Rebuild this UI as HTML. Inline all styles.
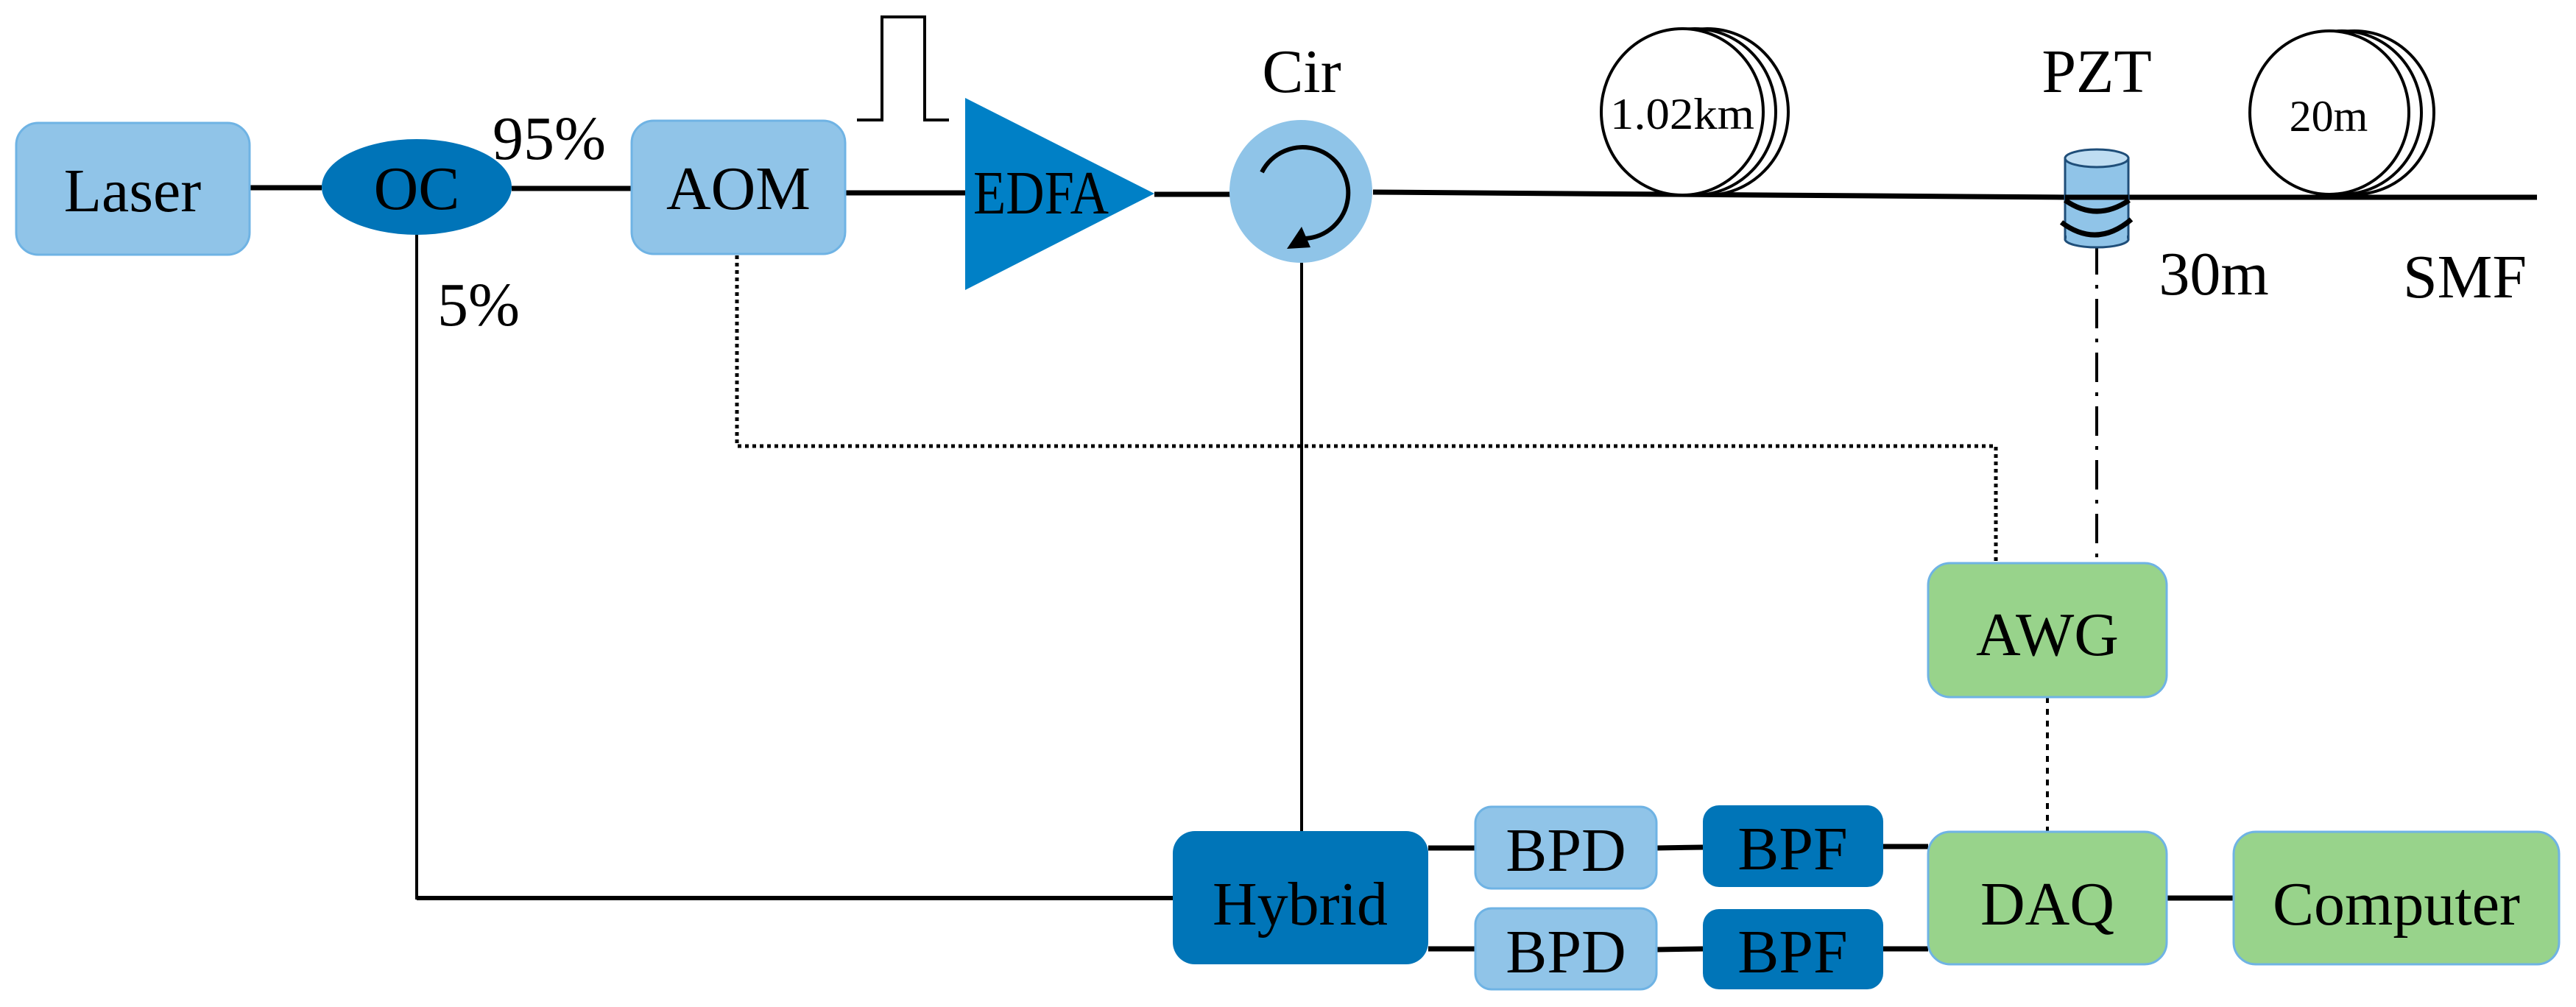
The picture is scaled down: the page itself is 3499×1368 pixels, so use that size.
<!DOCTYPE html>
<html><head><meta charset="utf-8"><style>
html,body{margin:0;padding:0;background:#fff}
svg{display:block}
text{font-family:"Liberation Serif",serif;fill:#000}
</style></head><body>
<svg width="3499" height="1368" viewBox="0 0 3499 1368" xmlns="http://www.w3.org/2000/svg">
<g stroke="#000" fill="none">
<line x1="339" y1="255" x2="437" y2="255" stroke-width="7"/>
<line x1="695" y1="256" x2="858" y2="256" stroke-width="7"/>
<line x1="1148" y1="262" x2="1311" y2="262" stroke-width="7"/>
<line x1="1568" y1="264" x2="1671" y2="264" stroke-width="7"/>
<line x1="1865" y1="261" x2="2805" y2="268" stroke-width="7"/>
<line x1="2891" y1="268" x2="3446" y2="268" stroke-width="7"/>
<polyline points="566,319 566,1220 1593,1220" stroke-width="4"/>
<line x1="566" y1="1220" x2="1593" y2="1220" stroke-width="6"/>
<line x1="1768" y1="357" x2="1768" y2="1129" stroke-width="4"/>
<polyline points="1001,347 1001,606 2711,606 2711,765" stroke-width="5" stroke-dasharray="5,5"/>
<line x1="2848" y1="333" x2="2848" y2="765" stroke-width="4" stroke-dasharray="40,14,5,14"/>
<line x1="2781" y1="947" x2="2781" y2="1130" stroke-width="4" stroke-dasharray="8,8"/>
<line x1="1940" y1="1152" x2="2004" y2="1152" stroke-width="7"/>
<line x1="2250" y1="1152" x2="2313" y2="1151" stroke-width="7"/>
<line x1="2558" y1="1150" x2="2619" y2="1150" stroke-width="7"/>
<line x1="1940" y1="1289" x2="2004" y2="1289" stroke-width="7"/>
<line x1="2250" y1="1290" x2="2313" y2="1289" stroke-width="7"/>
<line x1="2558" y1="1289" x2="2619" y2="1289" stroke-width="7"/>
<line x1="2943" y1="1220" x2="3034" y2="1220" stroke-width="7"/>
<polyline points="1164,163 1198,163 1198,23 1256,23 1256,163 1289,163" stroke-width="4"/>
</g>
<g stroke="#6fb3e4" stroke-width="3">
<rect x="22" y="167" width="317" height="179" rx="30" fill="#90C4E8"/>
<rect x="858" y="164" width="290" height="181" rx="30" fill="#90C4E8"/>
<rect x="2004" y="1096" width="246" height="111" rx="22" fill="#90C4E8"/>
<rect x="2004" y="1234" width="246" height="110" rx="22" fill="#90C4E8"/>
<rect x="2619" y="765" width="324" height="182" rx="30" fill="#98D38B"/>
<rect x="2619" y="1130" width="324" height="180" rx="30" fill="#98D38B"/>
<rect x="3034" y="1130" width="442" height="180" rx="30" fill="#98D38B"/>
</g>
<rect x="1593" y="1129" width="347" height="181" rx="30" fill="#0075B8"/>
<rect x="2313" y="1094" width="245" height="111" rx="22" fill="#0075B8"/>
<rect x="2313" y="1235" width="245" height="109" rx="22" fill="#0075B8"/>
<ellipse cx="566" cy="254" rx="129" ry="65" fill="#0074B8"/>
<polygon points="1311,133 1568,263 1311,394" fill="#0080C6"/>
<circle cx="1767" cy="260" r="97" fill="#8FC4E8"/>
<path d="M1714,234 A62,62 0 1 1 1772,324" stroke="#000" stroke-width="6" fill="none"/>
<polygon points="1748,338 1768,308 1780,336" fill="#000"/>
<g stroke="#000" stroke-width="4" fill="#fff">
<ellipse cx="2319" cy="152" rx="110" ry="113"/>
<ellipse cx="2302" cy="152" rx="110" ry="113"/>
<ellipse cx="2285" cy="152" rx="110" ry="113"/>
<ellipse cx="3198" cy="153" rx="108" ry="111"/>
<ellipse cx="3181" cy="153" rx="108" ry="111"/>
<ellipse cx="3164" cy="153" rx="108" ry="111"/>
</g>
<rect x="2805" y="215" width="86" height="110" fill="#90C4E8" stroke="#1f4e79" stroke-width="3"/>
<ellipse cx="2848" cy="325" rx="43" ry="11" fill="#90C4E8" stroke="#1f4e79" stroke-width="3"/>
<rect x="2807" y="250" width="82" height="75" fill="#90C4E8"/>
<ellipse cx="2848" cy="215" rx="43" ry="12" fill="#BFDDF2" stroke="#1f4e79" stroke-width="3"/>
<line x1="2805" y1="268" x2="2891" y2="268" stroke="#000" stroke-width="7"/>
<path d="M2805,272 Q2848,302 2892,272" stroke="#000" stroke-width="7" fill="none"/>
<path d="M2800,302 Q2848,338 2895,298" stroke="#000" stroke-width="7" fill="none"/>
<g font-size="84" text-anchor="middle">
<text x="180" y="287">Laser</text>
<text x="566" y="284">OC</text>
<text x="1003" y="284">AOM</text>
<text x="1414" y="290" textLength="184" lengthAdjust="spacingAndGlyphs">EDFA</text>
<text x="1768" y="125">Cir</text>
<text x="2848" y="125">PZT</text>
<text x="2781" y="890">AWG</text>
<text x="2781" y="1256">DAQ</text>
<text x="3255" y="1256">Computer</text>
<text x="1766" y="1256">Hybrid</text>
<text x="2127" y="1183">BPD</text>
<text x="2127" y="1321">BPD</text>
<text x="2435" y="1181">BPF</text>
<text x="2435" y="1321">BPF</text>
<text x="3007" y="400">30m</text>
<text x="3348" y="404">SMF</text>
<text x="746" y="216">95%</text>
<text x="650" y="442">5%</text>
</g>
<g font-size="60" text-anchor="middle">
<text x="2285" y="175" textLength="196" lengthAdjust="spacingAndGlyphs">1.02km</text>
<text x="3163" y="178">20m</text>
</g>
</svg>
</body></html>
